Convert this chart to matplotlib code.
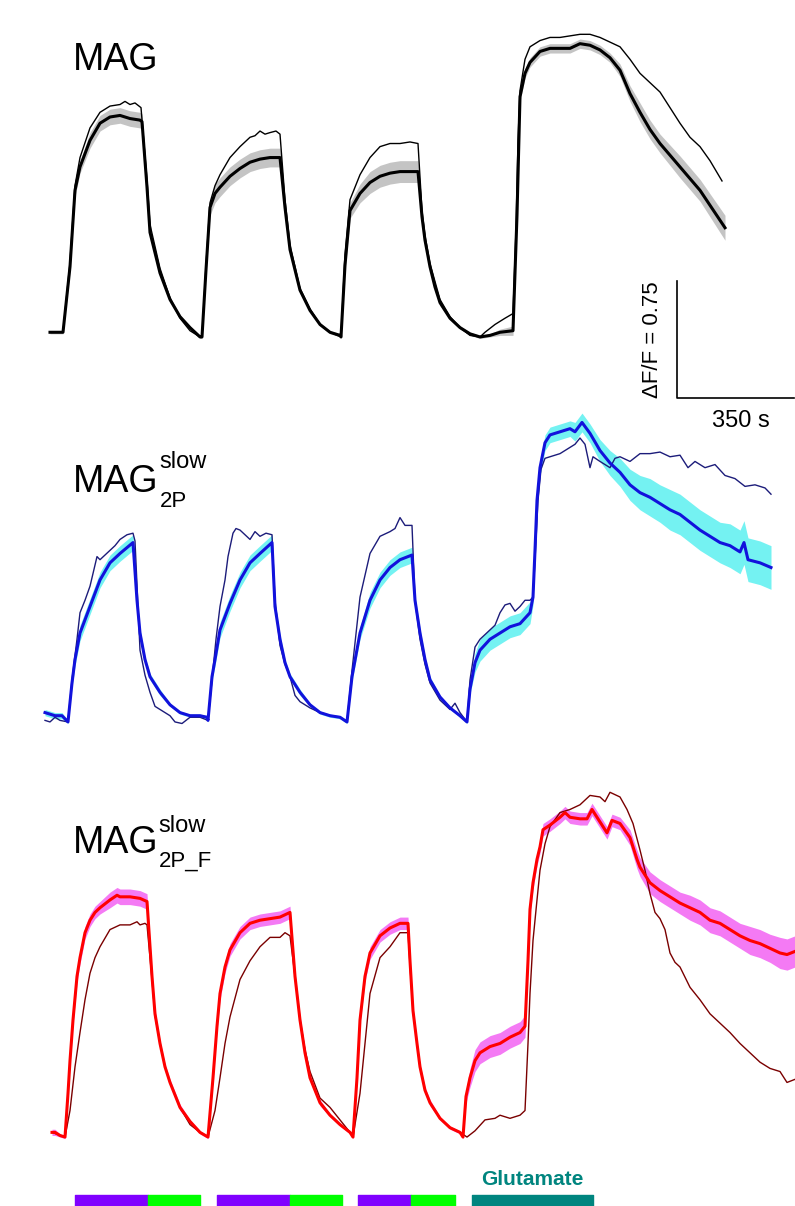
import matplotlib
matplotlib.use('Agg')
import matplotlib.pyplot as plt

plt.rcParams['font.family'] = ['Liberation Sans', 'DejaVu Sans']

# ---- MAG (black) ----
mag_t = [15, 54, 75, 90, 105, 135, 165, 195, 225, 255, 285, 291, 306, 315, 345, 375, 405, 435, 465, 471,
         483, 495, 510, 525, 555, 585, 615, 645, 675, 705, 720, 735, 765, 795, 825, 855, 885, 888, 900, 915,
         945, 975, 1005, 1035, 1065, 1119, 1131, 1140, 1155, 1170, 1185, 1215, 1245, 1275, 1305, 1335, 1365, 1404, 1416, 1425,
         1440, 1455, 1485, 1515, 1545, 1575, 1605, 1635, 1665, 1695, 1725, 1755, 1785, 1815, 1845, 1905, 1965, 2040]
mag_mean = [0.03, 0.03, 0.45, 0.94, 1.09, 1.26, 1.37, 1.41, 1.42, 1.40, 1.39, 1.38, 0.96, 0.67, 0.41, 0.24, 0.13, 0.06, 0.00, 0.00,
            0.43, 0.83, 0.92, 0.96, 1.03, 1.08, 1.12, 1.14, 1.15, 1.15, 0.83, 0.56, 0.30, 0.17, 0.08, 0.03, 0.01, 0.00, 0.46, 0.81,
            0.92, 0.99, 1.03, 1.05, 1.06, 1.06, 0.77, 0.62, 0.45, 0.32, 0.22, 0.12, 0.06, 0.02, 0.00, 0.01, 0.03, 0.04, 0.78, 1.54,
            1.69, 1.76, 1.83, 1.85, 1.85, 1.85, 1.88, 1.87, 1.84, 1.79, 1.71, 1.56, 1.44, 1.33, 1.24, 1.09, 0.94, 0.70]
mag_sem = [0.01, 0.01, 0.03, 0.04, 0.04, 0.05, 0.05, 0.05, 0.05, 0.05, 0.05, 0.05, 0.03, 0.02, 0.02, 0.02, 0.01, 0.01, 0.01, 0.01,
           0.03, 0.05, 0.06, 0.06, 0.06, 0.06, 0.06, 0.06, 0.06, 0.06, 0.03, 0.02, 0.02, 0.01, 0.01, 0.01, 0.01, 0.01, 0.04, 0.05,
           0.06, 0.07, 0.07, 0.07, 0.07, 0.07, 0.04, 0.03, 0.02, 0.02, 0.02, 0.01, 0.01, 0.01, 0.01, 0.01, 0.02, 0.03, 0.03, 0.03,
           0.03, 0.03, 0.03, 0.03, 0.03, 0.03, 0.03, 0.03, 0.03, 0.03, 0.04, 0.05, 0.06, 0.06, 0.06, 0.07, 0.07, 0.08]
mag_cell_t = [15, 54, 75, 90, 105, 135, 165, 195, 225, 240, 255, 270, 288, 306, 315, 345, 375, 405, 435, 465,
              471, 483, 495, 510, 525, 555, 585, 615, 630, 645, 660, 675, 693, 705, 720, 735, 765, 795, 825, 855,
              888, 900, 915, 945, 975, 1005, 1035, 1065, 1095, 1119, 1131, 1140, 1155, 1185, 1215, 1245, 1275, 1305, 1320, 1350,
              1380, 1404, 1413, 1419, 1425, 1440, 1455, 1485, 1515, 1545, 1575, 1605, 1635, 1665, 1695, 1725, 1755, 1785, 1815, 1845,
              1875, 1905, 1935, 1965, 1995, 2031]
mag_cell = [0.03, 0.03, 0.48, 0.97, 1.15, 1.34, 1.44, 1.48, 1.49, 1.51, 1.49, 1.50, 1.47, 1.01, 0.72, 0.44, 0.25, 0.12, 0.04, 0.00,
            0.00, 0.46, 0.86, 0.97, 1.04, 1.15, 1.22, 1.28, 1.29, 1.32, 1.30, 1.31, 1.32, 1.30, 0.88, 0.59, 0.31, 0.18, 0.08, 0.03,
            0.00, 0.53, 0.88, 1.04, 1.15, 1.22, 1.24, 1.24, 1.25, 1.24, 0.81, 0.65, 0.47, 0.24, 0.13, 0.06, 0.01, 0.00, 0.03, 0.08,
            0.12, 0.15, 0.69, 1.26, 1.58, 1.78, 1.86, 1.90, 1.92, 1.92, 1.93, 1.94, 1.94, 1.92, 1.89, 1.86, 1.78, 1.69, 1.63, 1.57,
            1.47, 1.37, 1.28, 1.22, 1.13, 1.00]

# ---- MAG slow 2P (blue) ----
p2_t = [0, 30, 51, 69, 81, 90, 105, 135, 165, 195, 225, 264, 276, 285, 300, 315, 345, 375, 405, 435,
        465, 486, 489, 501, 510, 525, 555, 585, 615, 645, 681, 690, 705, 720, 735, 765, 795, 825, 855, 885,
        906, 921, 945, 975, 1005, 1035, 1065, 1101, 1110, 1125, 1140, 1155, 1185, 1215, 1245, 1266, 1275, 1290, 1305, 1335,
        1365, 1395, 1425, 1455, 1464, 1470, 1476, 1485, 1500, 1515, 1545, 1575, 1590, 1611, 1635, 1665, 1695, 1725, 1755, 1785,
        1815, 1845, 1875, 1905, 1935, 1965, 1995, 2025, 2055, 2085, 2097, 2109, 2145, 2178]
p2_mean = [0.06, 0.04, 0.04, 0.00, 0.25, 0.40, 0.57, 0.74, 0.91, 1.02, 1.08, 1.15, 0.78, 0.57, 0.40, 0.29, 0.19, 0.11, 0.06, 0.04,
           0.04, 0.03, 0.01, 0.29, 0.40, 0.59, 0.76, 0.91, 1.02, 1.08, 1.15, 0.74, 0.53, 0.38, 0.29, 0.19, 0.11, 0.06, 0.04, 0.03,
           0.00, 0.29, 0.57, 0.78, 0.91, 0.99, 1.04, 1.07, 0.78, 0.57, 0.40, 0.27, 0.16, 0.09, 0.04, 0.00, 0.21, 0.38, 0.46, 0.53,
           0.57, 0.61, 0.63, 0.70, 0.80, 1.10, 1.42, 1.63, 1.79, 1.84, 1.86, 1.88, 1.86, 1.92, 1.85, 1.74, 1.66, 1.60, 1.52, 1.47,
           1.44, 1.40, 1.36, 1.33, 1.28, 1.23, 1.19, 1.15, 1.13, 1.09, 1.15, 1.04, 1.02, 0.99]
p2_sem = [0.02, 0.02, 0.02, 0.01, 0.03, 0.04, 0.05, 0.05, 0.05, 0.05, 0.05, 0.05, 0.03, 0.03, 0.02, 0.02, 0.02, 0.01, 0.01, 0.01,
          0.01, 0.01, 0.01, 0.03, 0.04, 0.05, 0.05, 0.05, 0.05, 0.05, 0.05, 0.03, 0.03, 0.02, 0.02, 0.02, 0.01, 0.01, 0.01, 0.01,
          0.01, 0.03, 0.04, 0.05, 0.05, 0.05, 0.05, 0.05, 0.03, 0.03, 0.02, 0.02, 0.01, 0.01, 0.01, 0.01, 0.03, 0.06, 0.07, 0.07,
          0.07, 0.07, 0.07, 0.07, 0.05, 0.05, 0.05, 0.05, 0.05, 0.05, 0.05, 0.05, 0.06, 0.06, 0.06, 0.07, 0.08, 0.09, 0.10, 0.11,
          0.12, 0.12, 0.13, 0.13, 0.13, 0.13, 0.13, 0.13, 0.14, 0.14, 0.14, 0.14, 0.14, 0.14]
p2_cell_t = [0, 15, 30, 45, 69, 81, 96, 105, 120, 135, 156, 165, 195, 210, 225, 246, 264, 270, 285, 300, 315,
             330, 345, 360, 375, 390, 411, 435, 465, 489, 501, 513, 525, 540, 549, 564, 573, 585, 600, 615, 630,
             645, 663, 681, 690, 705, 720, 735, 750, 765, 795, 825, 855, 885, 906, 921, 945, 975, 1005, 1035, 1050,
             1065, 1080, 1101, 1110, 1125, 1140, 1155, 1185, 1200, 1215, 1230, 1245, 1266, 1275, 1290, 1305, 1335, 1350, 1365, 1380,
             1395, 1410, 1425, 1440, 1455, 1464, 1470, 1479, 1488, 1500, 1515, 1545, 1560, 1575, 1590, 1605, 1620, 1635, 1644, 1665,
             1695, 1710, 1725, 1755, 1785, 1815, 1845, 1875, 1905, 1929, 1950, 1980, 2010, 2040, 2070, 2100, 2130, 2160, 2178]
p2_cell = [0.01, 0.00, 0.03, 0.01, 0.00, 0.27, 0.53, 0.70, 0.78, 0.87, 1.06, 1.04, 1.10, 1.13, 1.17, 1.20, 1.21, 1.16, 0.46, 0.30, 0.19,
           0.10, 0.08, 0.06, 0.04, 0.00, -0.01, 0.03, 0.03, 0.01, 0.27, 0.53, 0.74, 0.91, 1.06, 1.21, 1.24, 1.23, 1.20, 1.17, 1.22,
           1.19, 1.21, 1.20, 0.78, 0.49, 0.37, 0.29, 0.17, 0.13, 0.09, 0.06, 0.04, 0.03, 0.00, 0.33, 0.80, 1.08, 1.19, 1.22, 1.24,
           1.31, 1.26, 1.26, 0.78, 0.53, 0.37, 0.25, 0.14, 0.11, 0.08, 0.12, 0.06, 0.00, 0.27, 0.48, 0.53, 0.59, 0.62, 0.70, 0.75,
           0.76, 0.71, 0.74, 0.78, 0.78, 0.80, 1.04, 1.42, 1.62, 1.69, 1.70, 1.72, 1.74, 1.76, 1.78, 1.82, 1.78, 1.63, 1.70, 1.67,
           1.63, 1.69, 1.70, 1.67, 1.72, 1.72, 1.73, 1.70, 1.71, 1.63, 1.67, 1.63, 1.65, 1.58, 1.56, 1.51, 1.52, 1.50, 1.46]

# ---- MAG slow 2P_F (red) ----
p3_t = [21, 30, 45, 60, 69, 75, 84, 96, 105, 120, 135, 150, 165, 195, 216, 225, 255, 285, 306, 321,
        330, 345, 360, 375, 405, 435, 465, 489, 504, 516, 525, 540, 555, 585, 615, 645, 675, 705, 735, 750,
        765, 780, 795, 825, 855, 885, 915, 924, 936, 945, 960, 975, 1005, 1035, 1065, 1089, 1095, 1104, 1116, 1125,
        1140, 1155, 1185, 1215, 1245, 1254, 1263, 1275, 1290, 1305, 1335, 1365, 1395, 1425, 1440, 1449, 1455, 1464, 1476, 1485,
        1494, 1515, 1545, 1560, 1575, 1605, 1626, 1641, 1665, 1686, 1701, 1725, 1755, 1776, 1785, 1815, 1845, 1875, 1905, 1935,
        1965, 1995, 2025, 2055, 2085, 2115, 2145, 2175, 2205, 2226, 2250]
p3_mean = [0.03, 0.03, 0.01, 0.00, 0.28, 0.49, 0.75, 1.03, 1.15, 1.31, 1.39, 1.44, 1.47, 1.52, 1.55, 1.54, 1.54, 1.53, 1.51, 1.03,
           0.79, 0.60, 0.45, 0.35, 0.19, 0.10, 0.03, 0.00, 0.38, 0.71, 0.92, 1.09, 1.20, 1.31, 1.37, 1.39, 1.40, 1.41, 1.44, 1.03,
           0.75, 0.54, 0.38, 0.22, 0.14, 0.08, 0.03, 0.00, 0.38, 0.75, 1.03, 1.18, 1.29, 1.34, 1.37, 1.37, 1.13, 0.81, 0.60, 0.45,
           0.30, 0.22, 0.12, 0.06, 0.03, 0.00, 0.26, 0.38, 0.49, 0.54, 0.58, 0.60, 0.64, 0.67, 0.71, 1.13, 1.46, 1.63, 1.78, 1.86,
           1.97, 2.00, 2.05, 2.08, 2.05, 2.04, 2.04, 2.10, 2.02, 1.95, 2.03, 2.01, 1.92, 1.78, 1.73, 1.63, 1.58, 1.54, 1.50, 1.47,
           1.44, 1.39, 1.37, 1.33, 1.29, 1.26, 1.24, 1.21, 1.18, 1.17, 1.19]
p3_sem = [0.02, 0.02, 0.01, 0.01, 0.02, 0.03, 0.03, 0.04, 0.04, 0.04, 0.04, 0.04, 0.04, 0.05, 0.05, 0.05, 0.05, 0.05, 0.05, 0.03,
          0.03, 0.02, 0.02, 0.02, 0.02, 0.01, 0.01, 0.01, 0.02, 0.03, 0.04, 0.04, 0.04, 0.04, 0.04, 0.04, 0.04, 0.04, 0.04, 0.03,
          0.03, 0.02, 0.02, 0.02, 0.01, 0.01, 0.01, 0.01, 0.02, 0.03, 0.03, 0.04, 0.04, 0.04, 0.04, 0.04, 0.03, 0.03, 0.02, 0.02,
          0.02, 0.02, 0.01, 0.01, 0.01, 0.01, 0.04, 0.06, 0.07, 0.07, 0.07, 0.07, 0.07, 0.07, 0.07, 0.05, 0.04, 0.04, 0.04, 0.04,
          0.04, 0.04, 0.04, 0.04, 0.04, 0.04, 0.04, 0.04, 0.04, 0.04, 0.04, 0.04, 0.05, 0.06, 0.06, 0.07, 0.07, 0.07, 0.07, 0.08,
          0.08, 0.08, 0.08, 0.08, 0.08, 0.09, 0.09, 0.09, 0.10, 0.10, 0.10]
p3_cell_t = [21, 60, 75, 90, 105, 120, 135, 150, 165, 195, 225, 255, 276, 285, 300, 306, 321, 330, 345, 360,
             375, 405, 435, 465, 489, 510, 525, 540, 555, 585, 615, 645, 675, 705, 720, 735, 750, 765, 780, 795,
             825, 855, 885, 915, 924, 945, 960, 975, 1005, 1035, 1065, 1089, 1095, 1104, 1116, 1125, 1140, 1155, 1185, 1215,
             1245, 1266, 1290, 1320, 1350, 1365, 1395, 1425, 1440, 1449, 1455, 1464, 1476, 1485, 1500, 1515, 1545, 1575, 1605, 1635,
             1665, 1680, 1695, 1725, 1746, 1764, 1785, 1800, 1815, 1830, 1845, 1860, 1875, 1890, 1905, 1935, 1965, 1995, 2025, 2055,
             2085, 2115, 2145, 2175, 2205, 2226, 2250]
p3_cell = [0.03, 0.00, 0.17, 0.45, 0.67, 0.88, 1.05, 1.15, 1.22, 1.33, 1.36, 1.36, 1.38, 1.36, 1.37, 1.36, 1.01, 0.78, 0.60, 0.45,
           0.35, 0.19, 0.08, 0.03, 0.00, 0.17, 0.38, 0.60, 0.77, 1.01, 1.13, 1.22, 1.28, 1.28, 1.31, 1.29, 1.03, 0.75, 0.56, 0.42,
           0.25, 0.19, 0.11, 0.03, 0.00, 0.28, 0.60, 0.92, 1.15, 1.22, 1.31, 1.31, 1.10, 0.81, 0.60, 0.45, 0.30, 0.22, 0.12, 0.06,
           0.03, 0.00, 0.04, 0.11, 0.12, 0.14, 0.12, 0.14, 0.17, 0.60, 0.92, 1.26, 1.52, 1.71, 1.88, 1.99, 2.08, 2.10, 2.13, 2.19,
           2.18, 2.15, 2.21, 2.18, 2.10, 2.01, 1.84, 1.71, 1.56, 1.44, 1.40, 1.33, 1.18, 1.12, 1.09, 0.96, 0.88, 0.79, 0.73, 0.67,
           0.60, 0.54, 0.48, 0.44, 0.42, 0.35, 0.37]

# stimulus epochs (s): start, duration
uv_epochs = [(90, 219), (516, 219), (939, 159)]
vis_epochs = [(309, 156), (735, 156), (1098, 132)]
glu_epoch = [(1281, 363)]

scale_t = 350
scale_df = 0.75

W, H = 795, 1206
fig = plt.figure(figsize=(W / 100, H / 100), dpi=100)
ax = fig.add_axes([0, 0, 1, 1])
ax.set_xlim(-135, 2250)
ax.set_ylim(0, 7.731)
ax.axis('off')

panels = [
    (mag_t, mag_mean, mag_sem, mag_cell_t, mag_cell, 5.571, '#c4c4c4', 'black', 'black'),
    (p2_t, p2_mean, p2_sem, p2_cell_t, p2_cell, 3.103, '#74f2f2', '#1212dc', '#1c1c7a'),
    (p3_t, p3_mean, p3_sem, p3_cell_t, p3_cell, 0.442, '#f47af4', '#ff0000', '#7a0000'),
]
for t, m, s, ct, c, off, band, col, ccol in panels:
    lo = [off + a - b for a, b in zip(m, s)]
    hi = [off + a + b for a, b in zip(m, s)]
    ax.fill_between(t, lo, hi, color=band, lw=0)
    ax.plot(ct, [off + v for v in c], color=ccol, lw=1.0)
    ax.plot(t, [off + v for v in m], color=col, lw=2.2)

# scale bar
sx, sy = 1896, 5.179
ax.plot([sx, sx, sx + scale_t], [sy + scale_df, sy, sy], color='black', lw=1.2, clip_on=False)

# stimulus bars
ax.broken_barh(uv_epochs, (0, 0.07), color='#8000ff')
ax.broken_barh(vis_epochs, (0, 0.07), color='#00ff00')
ax.broken_barh(glu_epoch, (0, 0.07), color='#00857f')


def px(x, y):
    return x / W, 1 - y / H


fig.text(*px(73, 70), 'MAG', fontsize=27, va='baseline')
fig.text(*px(73, 492), 'MAG', fontsize=27, va='baseline')
fig.text(*px(159, 468), 'slow', fontsize=17, va='baseline')
fig.text(*px(160, 507), '2P', fontsize=16, va='baseline')
fig.text(*px(73, 853), 'MAG', fontsize=27, va='baseline')
fig.text(*px(158, 832), 'slow', fontsize=17, va='baseline')
fig.text(*px(159, 867), '2P_F', fontsize=16, va='baseline')

fig.text(*px(652, 340), '\u0394F/F = 0.75', fontsize=16, rotation=90, ha='center', va='center')
fig.text(*px(741, 427), '350 s', fontsize=17, ha='center', va='baseline')
fig.text(*px(532, 1185), 'Glutamate', fontsize=15, fontweight='bold', color='#00857f',
         ha='center', va='baseline')

fig.savefig('out.png', dpi=100)
